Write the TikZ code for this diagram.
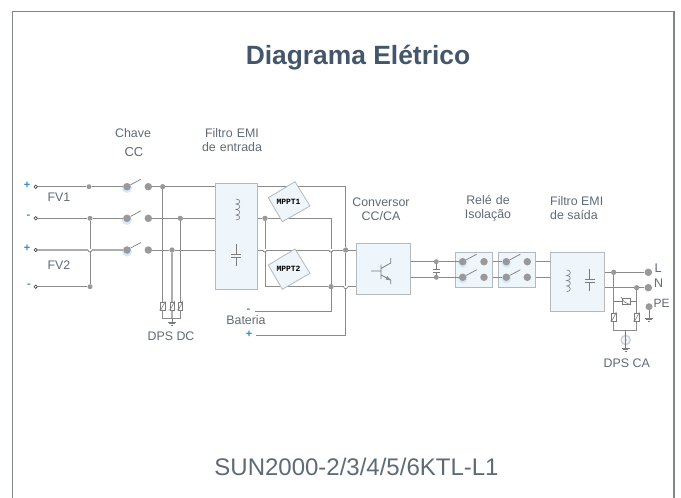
\documentclass[tikz,border=0pt]{standalone}
\usepackage{fontspec}
\setmainfont{Liberation Sans}
\newfontfamily\mppfont{Liberation Mono}
\usetikzlibrary{calc}
\definecolor{wire}{HTML}{8A8A8A}
\definecolor{dotc}{HTML}{999999}
\definecolor{txt}{HTML}{5E6A76}
\definecolor{boxf}{HTML}{EEF5FB}
\definecolor{boxd}{HTML}{B3B9BC}
\definecolor{frm}{HTML}{7D868C}
\definecolor{plus}{HTML}{2E8BC9}
\definecolor{glow}{HTML}{D6E8F7}
\definecolor{titlec}{HTML}{44566C}
\tikzset{
  wireline/.style={draw=wire,line width=0.8pt},
  lightwire/.style={draw=wire!70,line width=1.1pt},
  sym/.style={draw=wire!90!black,line width=0.6pt},
  blockbox/.style={draw=boxd,fill=boxf,line width=1pt,inner sep=0pt},
  lab/.style={text=txt,font=\fontsize{12.4}{12.4}\selectfont,inner sep=0pt,align=center},
  sgn/.style={text=plus,font=\fontsize{11}{11}\selectfont\bfseries,inner sep=0pt},
  jdot/.style={circle,fill=dotc,inner sep=0pt,minimum size=#1},
  jdot/.default=5pt,
  tdot/.style={circle,draw=black!80,fill=white,line width=0.6pt,inner sep=0pt,minimum size=3.4pt},
  mppbox/.style={draw=boxd,fill=boxf,line width=0.8pt},
  mpptext/.style={font=\mppfont\bfseries\fontsize{8}{8}\selectfont,text=black,inner sep=0pt},
  varistor/.pic={
    \draw[sym,fill=white] (-2.2,-3.8) rectangle (2.2,3.8);
    \draw[sym] (-3.4,4.2) -- (-1.8,3.6) -- (2,-3.4) -- (2.6,-5.2);
  },
  ground/.pic={
    \draw[sym] (-4,0) -- (4,0) (-2.6,1.6) -- (2.6,1.6) (-1,3.2) -- (1,3.2);
  },
  hopv/.pic={
    \fill[white] (-2,-0.8) rectangle (2,0.8);
    \draw[wireline] (-2,0) arc[start angle=180,end angle=0,radius=2];
  },
}
\newcommand{\switchblade}[1]{\draw[sym,line width=0.7pt] (#1) -- ++(14,-7.5);}
\begin{document}
\begin{tikzpicture}[x=1pt,y=-1pt]
\useasboundingbox (0,0) rectangle (681,498);
\draw[frm,line width=1.2pt] (12.5,498) |- (674,11.5) -- (674,498);

% titles
\node[inner sep=0pt,text=titlec,font=\fontsize{26.4}{26}\selectfont\bfseries] (title) at (358,58) {Diagrama Elétrico};
\node[inner sep=0pt,text=txt,font=\fontsize{24}{24}\selectfont] (model) at (356.5,467) {SUN2000-2/3/4/5/6KTL-L1};

% coordinates
\coordinate (yA) at (0,186.7);
\coordinate (yB) at (0,218.3);
\coordinate (yC) at (0,250);
\coordinate (yD) at (0,286.7);

% blocks
\node[blockbox,minimum width=42.3pt,minimum height=105.7pt] (emiin) at (236.2,236.2) {};
\node[blockbox,minimum width=54.3pt,minimum height=50.3pt] (conv) at (383.8,268.9) {};
\node[blockbox,minimum width=37pt,minimum height=35.4pt] (rel1) at (473.8,270) {};
\node[blockbox,minimum width=36.7pt,minimum height=35.4pt] (rel2) at (517.3,270) {};
\node[blockbox,minimum width=54.4pt,minimum height=59pt] (emiout) at (577.5,281.5) {};

% terminals
\node[tdot] (t1) at (35.7,186.7) {};
\node[tdot] (t2) at (35.7,218.3) {};
\node[tdot] (t3) at (35.7,250) {};
\node[tdot] (t4) at (35.7,286.7) {};
% junctions left
\node[jdot=5pt] (a1) at (89,186.7) {};
\node[jdot=5pt] (a2) at (90,218.3) {};
\node[jdot=5pt] (a4) at (90,286.7) {};
\fill[glow] (127,188) circle (5pt);
\fill[glow] (127,220) circle (5pt);
\fill[glow] (127,251.5) circle (5pt);
\node[jdot=7.5pt] (s1a) at (127,186.7) {};
\node[jdot=7.5pt] (s1b) at (148.3,186.7) {};
\node[jdot=7.5pt] (s2a) at (127,218.3) {};
\node[jdot=7.5pt] (s2b) at (148.3,218.3) {};
\node[jdot=7.5pt] (s3a) at (127,250) {};
\node[jdot=7.5pt] (s3b) at (148.3,250) {};
\node[jdot=5pt] (j1) at (162.7,186.7) {};
\node[jdot=5pt] (j2) at (180.3,218.3) {};
\node[jdot=5pt] (j3) at (172,250) {};
\coordinate (v1) at (162.7,306);
\coordinate (v2) at (172,306);
\coordinate (v3) at (180.3,306);
\coordinate (vb) at (172,318);

% wires left
\draw[wireline] (t1) -- (a1) -- (s1a);
\draw[wireline] (s1b) -- (j1);
\draw[wireline] (j1) -- (emiin.west |- j1);
\draw[wireline] (t2) -- (a2) -- (s2a);
\draw[wireline] (s2b) -- (j2);
\draw[wireline] (j2) -- (emiin.west |- j2);
\draw[lightwire] (t3) -- (s3a);
\draw[wireline] (s3b) -- (j3);
\draw[wireline] (j3) -- (emiin.west |- j3);
\draw[wireline] (t4) -- (a4);
\draw[wireline,line width=0.9pt] (a2) -- (a4);
\pic at (90,250) {hopv};
\switchblade{s1a}
\switchblade{s2a}
\switchblade{s3a}
\draw[wireline] (j1) -- (v1) -- (162.7,318) -- (180.3,318) -- (v3) -- (j2);
\draw[lightwire] (j3) -- (v2) -- (vb);
\pic at (v1) {varistor};
\pic at (v2) {varistor};
\pic at (v3) {varistor};
\draw[sym] (vb) -- (172,322);
\pic at (172,322) {ground};
\node[jdot=5pt] at (j1) {};
\node[jdot=5pt] at (j2) {};
\node[jdot=5pt] at (j3) {};

% filter in symbols
\draw[sym] (236,199)
  .. controls (241,199) and (241,204) .. (236,204)
  .. controls (241,204) and (241,209.5) .. (236,209.5)
  .. controls (241,209.5) and (241,215) .. (236,215)
  .. controls (241,215) and (241,220) .. (236,220);
\draw[sym] (236,244) -- (236,254) (231,254) -- (241,254) (231,257) -- (241,257) (236,257) -- (236,266);

% MPPT wires
\coordinate (top) at (345.7,186.7);
\coordinate (batp) at (256,335.7);
\coordinate (batn) at (255,311.7);
\node[jdot=5pt] (m1) at (265,218.3) {};
\node[jdot=5pt] (n1) at (345.7,250) {};
\node[jdot=5pt] (n2) at (331,286.7) {};
\draw[wireline] (emiin.east |- yA) -- (top) -- (n1) -- (batp -| n1) -- (batp);
\draw[wireline] (emiin.east |- yB) -- (m1) -- (331,218.3) -- (n2) -- (batn -| n2) -- (batn);
\draw[wireline] (emiin.east |- yC) -- (n1) -- (conv.west |- n1);
\draw[wireline] (m1) -- (265,286.7) -- (n2) -- (conv.west |- n2);
\pic at (264.8,250) {hopv};
\pic at (331,250) {hopv};
\pic at (345.7,286.7) {hopv};
\node[jdot=5pt] at (m1) {};
\node[jdot=5pt] at (n1) {};
\node[jdot=5pt] at (n2) {};

% MPPT boxes
\draw[mppbox] (295,181.7) -- (310,206) -- (282.3,221.7) -- (268.3,197.7) -- cycle;
\node[mpptext] (mppt1) at (288.5,201.5) {MPPT1};
\draw[mppbox] (295,249) -- (310,273.3) -- (282.3,289.3) -- (268.3,265) -- cycle;
\node[mpptext] (mppt2) at (288.5,268.5) {MPPT2};

% transistor
\draw[sym,line width=0.8pt] (381,264.5) -- (381,279) (371,271) -- (381,271)
  (381,268.5) -- (390.7,263) -- (390.7,258)
  (381,275) -- (390.7,280) -- (390.7,284);
\fill[wire] (390.7,280.3) -- (385.5,279.5) -- (387.3,276) -- cycle;

% DC link
\node[jdot=5pt] (k1) at (436.3,261.7) {};
\node[jdot=5pt] (k2) at (436.3,277.3) {};
\draw[wireline] (411,261.7) -- (k1) -- (rel1.west |- k1);
\draw[wireline] (411,277.3) -- (k2) -- (rel1.west |- k2);
\draw[sym] (k1) -- (436.3,269.3) (433,269.3) -- (440,269.3) (433,272) -- (440,272) (436.3,272) -- (k2);

% relays
\fill[glow] (462.7,263) circle (4.8pt);
\fill[glow] (462.7,278.6) circle (4.8pt);
\fill[glow] (506.3,263) circle (4.8pt);
\fill[glow] (506.3,278.6) circle (4.8pt);
\node[jdot=7.5pt] (r1a) at (462.7,261.7) {};
\node[jdot=7.5pt] (r1b) at (484,261.7) {};
\node[jdot=7.5pt] (r2a) at (462.7,277.3) {};
\node[jdot=7.5pt] (r2b) at (484,277.3) {};
\node[jdot=7.5pt] (r3a) at (506.3,261.7) {};
\node[jdot=7.5pt] (r3b) at (527.3,261.7) {};
\node[jdot=7.5pt] (r4a) at (506.3,277.3) {};
\node[jdot=7.5pt] (r4b) at (527.3,277.3) {};
\draw[wireline] (rel1.west |- r1a) -- (r1a);
\draw[wireline] (rel1.west |- r2a) -- (r2a);
\draw[wireline] (rel2.west |- r3a) -- (r3a);
\draw[wireline] (rel2.west |- r4a) -- (r4a);
\switchblade{r1a}
\switchblade{r2a}
\switchblade{r3a}
\switchblade{r4a}
\draw[wireline] (rel1.east |- r1b) -- (rel2.west |- r3a);
\draw[wireline] (rel1.east |- r2b) -- (rel2.west |- r4a);
\draw[wireline] (rel2.east |- r3b) -- (emiout.west |- r3b);
\draw[wireline] (rel2.east |- r4b) -- (emiout.west |- r4b);

% filter out symbols
\draw[sym] (566.7,270)
  .. controls (571.5,270) and (571.5,275.5) .. (566.7,275.5)
  .. controls (571.5,275.5) and (571.5,280.5) .. (566.7,280.5)
  .. controls (571.5,280.5) and (571.5,286) .. (566.7,286)
  .. controls (571.5,286) and (571.5,291.7) .. (566.7,291.7);
\draw[sym] (589.7,269.3) -- (589.7,279) (585,279) -- (594.5,279) (585,282) -- (594.5,282) (589.7,282) -- (589.7,290.7);

% output
\node[jdot=7.5pt] (L) at (648.3,272.3) {};
\node[jdot=7.5pt] (N) at (648.3,287.7) {};
\node[jdot=7pt] (PE) at (649,306.7) {};
\node[jdot=5pt] (o1) at (613.7,272.3) {};
\node[jdot=5pt] (o2) at (636.7,287.7) {};
\draw[wireline] (emiout.east |- L) -- (o1) -- (L);
\draw[wireline] (emiout.east |- N) -- (o2) -- (N);
\coordinate (br) at (636.7,330);
\coordinate (bl) at (613.7,330);
\coordinate (bm) at (625.7,330);
\draw[wireline] (o1) -- (bl) -- (br) -- (o2);
\draw[sym] (613.7,301) -- (636.7,301);
\draw[sym,fill=white] (622.5,298.5) rectangle (630,304);
\draw[sym] (621,297) -- (624.5,302) -- (631,305);
\pic at (613.7,317) {varistor};
\pic at (636.7,317) {varistor};
\draw[sym] (PE) -- (649,318);
\pic at (649,318) {ground};
\draw[draw=wire!40,fill=boxf,line width=1.4pt] (625.7,340) circle (4.6pt);
\fill[wire!60] (625.7,340) circle (1.2pt);
\draw[sym] (bm) -- (625.7,348);
\pic at (625.7,348) {ground};
\node[jdot=5pt] at (o1) {};
\node[jdot=5pt] at (o2) {};

% labels
\node[lab] (chave) at (133,133) {Chave};
\node[lab,font=\fontsize{13}{13}\selectfont] (cc) at (134,152.5) {CC};
\node[lab,text width=80pt] (fin) at (232,140) {Filtro EMI\\[1.6pt]de entrada};
\node[lab,text width=80pt] (fconv) at (381,209.5) {Conversor\\[1.6pt]CC/CA};
\node[lab,text width=80pt] (frel) at (488,208.5) {Relé de\\[1.6pt]Isolação};
\node[lab,anchor=west,align=left] (fout) at (550,208.5) {Filtro EMI\\[1.6pt]de saída};
\node[lab] (fv1) at (59,197) {FV1};
\node[lab] (fv2) at (59,265.5) {FV2};
\node[sgn] at (27,185) {+};
\node[sgn] at (28.5,217) {-};
\node[sgn] at (27,248) {+};
\node[sgn] at (29,286) {-};
\node[lab] (bat) at (246,320.5) {Bateria};
\node[sgn] at (248.5,311) {-};
\node[sgn] at (249,334) {+};
\node[lab] (dpsdc) at (171,336.5) {DPS DC};
\node[lab] (dpsca) at (626.7,363.5) {DPS CA};
\node[lab,anchor=west,font=\fontsize{12.5}{12.5}\selectfont] at (654.5,268.5) {L};
\node[lab,anchor=west,font=\fontsize{12.5}{12.5}\selectfont] at (654,283.5) {N};
\node[lab,anchor=west,font=\fontsize{12}{12}\selectfont] at (653.5,303.5) {PE};
\end{tikzpicture}
\end{document}
